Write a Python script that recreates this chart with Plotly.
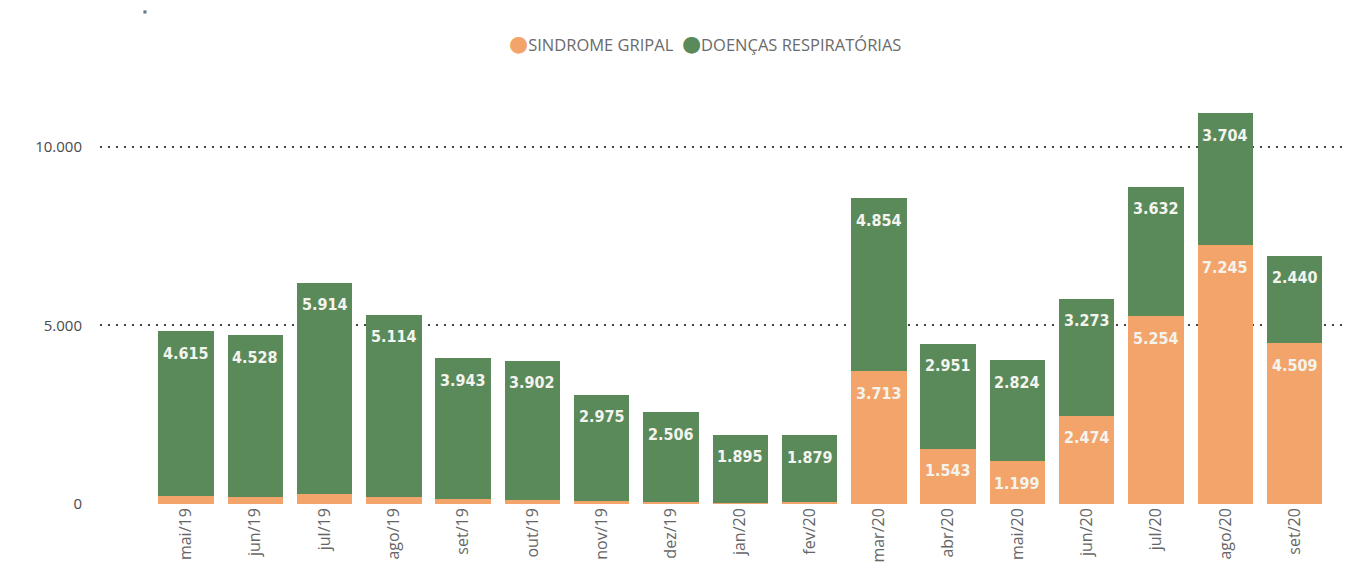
import plotly.graph_objects as go

categories = ["mai/19", "jun/19", "jul/19", "ago/19", "set/19", "out/19", "nov/19", "dez/19",
              "jan/20", "fev/20", "mar/20", "abr/20", "mai/20", "jun/20", "jul/20", "ago/20", "set/20"]
sindrome_gripal = [230, 200, 280, 190, 140, 110, 80, 60, 40, 50,
                   3713, 1543, 1199, 2474, 5254, 7245, 4509]
doencas_resp = [4615, 4528, 5914, 5114, 3943, 3902, 2975, 2506, 1895, 1879,
                4854, 2951, 2824, 3273, 3632, 3704, 2440]
y_tickvals = [0, 5000, 10000]
y_ticktext = ["0", "5.000", "10.000"]
label_min = 1000

GREEN = "#5b8a5a"
ORANGE = "#f3a46b"
LABEL_FONT = dict(color="#f4f4ee", size=16, family="DejaVu Sans Condensed", weight="bold")

W, H = 1342, 562
ML, MR, MT, MB = 92, 2, 72, 66
PLOT_H = H - MT - MB
PLOT_W = W - ML - MR


def fmt(v):
    return f"{v:,}".replace(",", ".")


fig = go.Figure()
fig.add_trace(go.Bar(x=categories, y=sindrome_gripal, name="SINDROME GRIPAL",
                     marker=dict(color=ORANGE, line=dict(width=0)),
                     showlegend=False, hoverinfo="skip"))
fig.add_trace(go.Bar(x=categories, y=doencas_resp, name="DOENÇAS RESPIRATÓRIAS",
                     marker=dict(color=GREEN, line=dict(width=0)),
                     showlegend=False, hoverinfo="skip"))

annotations = []
for c, o, g in zip(categories, sindrome_gripal, doencas_resp):
    annotations.append(dict(x=c, y=o + g, xref="x", yref="y", text=fmt(g), showarrow=False,
                            yshift=-22, font=LABEL_FONT))
    if o >= label_min:
        annotations.append(dict(x=c, y=o, xref="x", yref="y", text=fmt(o), showarrow=False,
                                yshift=-22, font=LABEL_FONT))

# legend drawn as a single text line with coloured circles
annotations.append(dict(
    x=(705 - 8 - ML) / PLOT_W, y=1 + (MT - 34) / PLOT_H, xref="paper", yref="paper",
    yanchor="middle", xanchor="center", showarrow=False,
    text=(f"<span style='color:{ORANGE};font-size:22px'>●</span>SINDROME GRIPAL  "
          f"<span style='color:{GREEN};font-size:22px'>●</span>DOENÇAS RESPIRATÓRIAS"),
    font=dict(size=16.5, color="#6b6b6b", family="Open Sans, DejaVu Sans"),
))
# small stray dot at the top left of the original
annotations.append(dict(
    x=(145 - 8 - ML) / PLOT_W, y=1 + (MT - 4) / PLOT_H, xref="paper", yref="paper",
    xanchor="center", yanchor="middle", showarrow=False, text="■",
    font=dict(size=4, color="#777777"),
))

fig.update_layout(
    width=W, height=H,
    barmode="stack", bargap=0.2,
    plot_bgcolor="white", paper_bgcolor="white",
    margin=dict(l=ML, r=MR, t=MT, b=MB),
    font=dict(family="Open Sans, DejaVu Sans", color="#666666", size=13),
    showlegend=False,
    annotations=annotations,
    xaxis=dict(range=[-1.24, 16.77], tickangle=-90, showgrid=False, showline=False,
               ticks="", tickfont=dict(size=16, color="#666666")),
    yaxis=dict(range=[0, 11876], tickvals=y_tickvals, ticktext=y_ticktext, showgrid=True,
               gridcolor="#444444", gridwidth=2, griddash="2px,6px",
               zeroline=False, showline=False, ticks="", ticklabelstandoff=17,
               tickfont=dict(size=15, color="#4a4a4a")),
)

fig.write_html("out.html")
